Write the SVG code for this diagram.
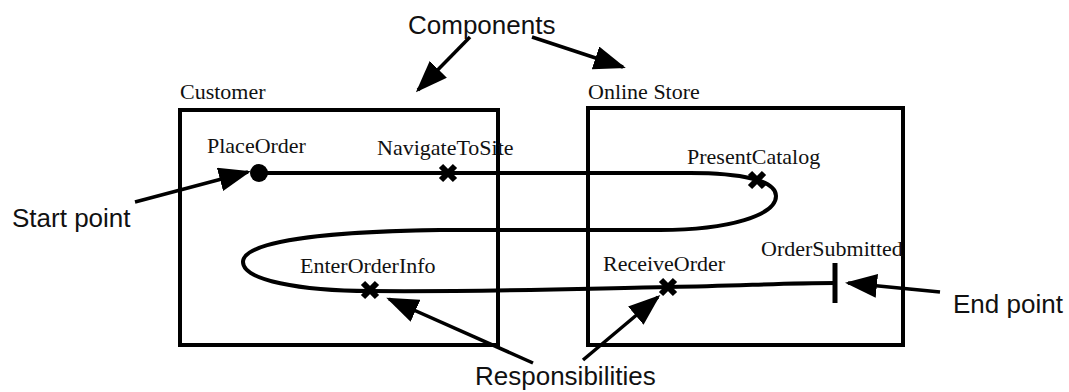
<svg xmlns="http://www.w3.org/2000/svg" xmlns:xlink="http://www.w3.org/1999/xlink" width="1069" height="392" viewBox="0 0 1069 392">
<style>
.box{fill:none;stroke:#000;stroke-width:4}
.lbl{font-family:"Liberation Serif","Times New Roman",serif;font-size:22px;fill:#111}
.note{font-family:"Liberation Sans",Arial,sans-serif;font-size:26px;fill:#111}
.path{fill:none;stroke:#000;stroke-width:4}
.arrow{fill:none;stroke:#000;stroke-width:3.5;marker-end:url(#ah)}
.xm{fill:none;stroke:#000;stroke-width:6}
</style>
<defs>
<marker id="ah" viewBox="0 0 32 24" refX="29" refY="12" markerWidth="32" markerHeight="24" markerUnits="userSpaceOnUse" orient="auto">
<path d="M0,0 L32,12 L0,24 z" fill="#000"/>
</marker>
<path id="xmark" class="xm" d="M-7,-7 L7,7 M-7,7 L7,-7"/>
</defs>
<rect width="1069" height="392" fill="#fff"/>

<g id="customer">
<rect class="box" x="180" y="110" width="318" height="235"/>
<text class="lbl" x="180" y="99">Customer</text>
</g>
<g id="online-store">
<rect class="box" x="588" y="108" width="315" height="237"/>
<text class="lbl" x="588" y="99">Online Store</text>
</g>

<g id="connectors">
<path class="path" d="M259 173 H690 C740 173 776 180 776 196 C776 215 730 230 660 230 L440 230 C300 232 243 245 243 262 C243 280 300 291 370 291 C500 292 600 288 670 287 C740 286 780 283 835 283"/>
<line class="arrow" x1="470" y1="37" x2="418" y2="90"/>
<line class="arrow" x1="532" y1="37" x2="623" y2="67"/>
<line class="arrow" x1="135" y1="202" x2="248" y2="172"/>
<line class="arrow" x1="940" y1="292" x2="848" y2="283"/>
<line class="arrow" x1="533" y1="363" x2="389" y2="299"/>
<line class="arrow" x1="583" y1="360" x2="658" y2="297"/>
</g>

<g id="start">
<circle cx="259" cy="173" r="9" fill="#000"/>
<text class="lbl" x="207" y="153">PlaceOrder</text>
</g>
<g id="navigate">
<use xlink:href="#xmark" x="448" y="173"/>
<text class="lbl" x="377" y="155">NavigateToSite</text>
</g>
<g id="present">
<use xlink:href="#xmark" x="757" y="180"/>
<text class="lbl" x="687" y="164">PresentCatalog</text>
</g>
<g id="enter">
<use xlink:href="#xmark" x="370" y="290"/>
<text class="lbl" x="300" y="273">EnterOrderInfo</text>
</g>
<g id="receive">
<use xlink:href="#xmark" x="668" y="287"/>
<text class="lbl" x="603" y="271">ReceiveOrder</text>
</g>
<g id="end">
<line x1="835" y1="263" x2="835" y2="303" stroke="#000" stroke-width="5"/>
<text class="lbl" x="761" y="256">OrderSubmitted</text>
</g>

<g id="notes">
<text class="note" x="408" y="34">Components</text>
<text class="note" x="12" y="227">Start point</text>
<text class="note" x="953" y="313">End point</text>
<text class="note" x="475" y="385">Responsibilities</text>
</g>
</svg>
